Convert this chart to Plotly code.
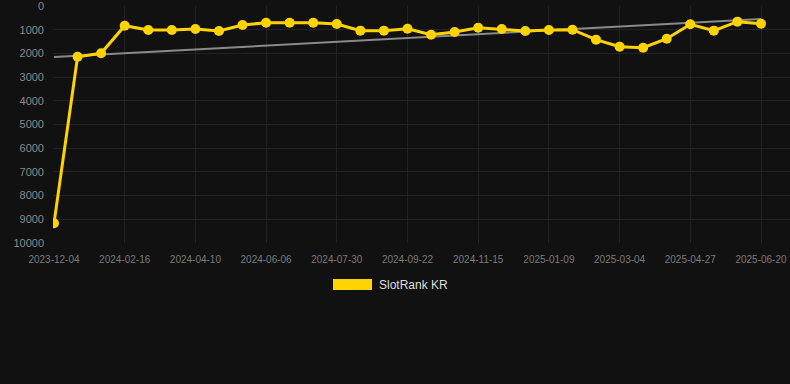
import plotly.graph_objects as go

# Data
tick_labels = ["2023-12-04", "2024-02-16", "2024-04-10", "2024-06-06", "2024-07-30",
               "2024-09-22", "2024-11-15", "2025-01-09", "2025-03-04", "2025-04-27",
               "2025-06-20"]
rank_values = [9170, 2140, 1995, 830, 1010, 1010, 970, 1055, 800, 705, 705, 705, 760,
               1040, 1040, 960, 1210, 1100, 915, 970, 1055, 1010, 1000, 1420, 1715,
               1760, 1380, 770, 1040, 660, 745]
trend_values = [2150, 550]
series_name = "SlotRank KR"
y_ticks = [0, 1000, 2000, 3000, 4000, 5000, 6000, 7000, 8000, 9000, 10000]

idx = list(range(len(rank_values)))
tick_pos = idx[::3]

BG = "#111111"
GOLD = "#FFD300"
FONT = "Liberation Sans, Arial, sans-serif"

fig = go.Figure()
fig.add_trace(go.Scatter(x=[idx[0], idx[-1]], y=trend_values, mode="lines",
                         line=dict(color="#8a8a8a", width=2), showlegend=False,
                         hoverinfo="skip"))
fig.add_trace(go.Scatter(x=idx, y=rank_values, mode="lines+markers", name=series_name,
                         line=dict(color=GOLD, width=3),
                         marker=dict(color=GOLD, size=10), showlegend=False))

L, R, T, B = 53, 0, 6, 141
W, H = 790, 384
pw = W - L - R
ph = H - T - B
step = (761 - 54) / 30

def px_x(p):
    return (p - L) / pw

def px_y(p):
    return (H - B - p) / ph

fig.add_shape(type="rect", xref="paper", yref="paper",
              x0=px_x(333), x1=px_x(372), y0=px_y(290), y1=px_y(279),
              fillcolor=GOLD, line=dict(width=0))
fig.add_annotation(xref="paper", yref="paper", x=px_x(377), y=px_y(285),
                   xanchor="left", yanchor="middle", text=series_name, showarrow=False,
                   font=dict(family=FONT, size=12, color="#dddddd"))

fig.update_layout(
    width=W, height=H,
    margin=dict(l=L, r=R, t=T, b=B),
    paper_bgcolor=BG, plot_bgcolor=BG,
    font=dict(family=FONT),
    showlegend=False,
    xaxis=dict(range=[-(54 - L) / step, 30 + (W - R - 761) / step],
               tickmode="array", tickvals=tick_pos, ticktext=tick_labels,
               tickfont=dict(size=10, color="#7a7a7a"),
               showgrid=True, gridcolor="#222222", gridwidth=1,
               zeroline=False, showline=False, ticks="",
               ticklabelstandoff=9, ticklabeloverflow="allow"),
    yaxis=dict(range=[10000.5, -0.5], tickmode="array", tickvals=y_ticks,
               ticktext=[str(v) for v in y_ticks],
               tickfont=dict(size=11, color="#8a8a8a"),
               showgrid=True, gridcolor="#222222", gridwidth=1,
               zeroline=False, showline=False, ticks="", ticklen=0,
               ticklabelstandoff=8, ticklabeloverflow="allow"),
)

fig.write_html("out.html", config={"displayModeBar": False},
               post_script="document.body.style.margin='0';document.body.style.background='#111111';")
